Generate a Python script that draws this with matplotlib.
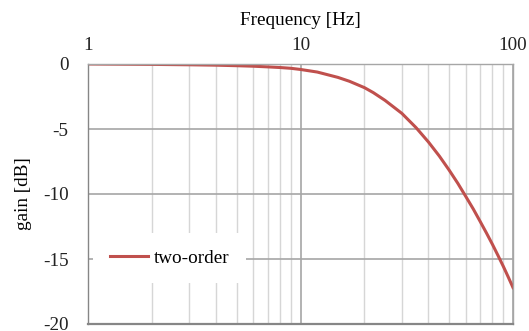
import matplotlib.pyplot as plt
from matplotlib.ticker import FixedLocator, NullFormatter

# values
freq = [1, 2, 3, 4, 5, 6, 7, 8, 9, 10, 12, 15, 17, 20, 22, 25, 30, 35, 40, 45, 50,
        55, 60, 65, 70, 75, 80, 85, 90, 95, 100]
gain = [0.0, -0.03, -0.06, -0.09, -0.13, -0.17, -0.22, -0.27, -0.33, -0.42, -0.62,
        -1.03, -1.33, -1.82, -2.2, -2.8, -3.8, -4.9, -6.0, -7.08, -8.15, -9.18, -10.2,
        -11.15, -12.1, -13.0, -13.87, -14.73, -15.56, -16.39, -17.2]
series_name = 'two-order'
xticks = [1, 10, 100]
yticks = [0, -5, -10, -15, -20]

plt.rcParams['font.family'] = ['Liberation Serif', 'DejaVu Serif']
plt.rcParams['font.size'] = 13.8

fig = plt.figure(figsize=(5.29, 3.31), dpi=100)
ax = fig.add_axes([88 / 529, 1 - 324 / 331, (513 - 88) / 529, (324 - 64) / 331])

ax.set_xscale('log')
ax.set_xlim(1, 100)
ax.set_ylim(-20, 0)

ax.xaxis.set_major_locator(FixedLocator(xticks))
ax.xaxis.set_minor_locator(FixedLocator([m * d for d in (1, 10) for m in range(2, 10)]))
ax.xaxis.set_minor_formatter(NullFormatter())
ax.set_xticklabels([str(t) for t in xticks])
ax.set_yticks(yticks)
ax.set_yticklabels([str(t) for t in yticks])

ax.xaxis.tick_top()
ax.xaxis.set_label_position('top')
ax.tick_params(axis='both', which='both', length=0, colors='#222222')
ax.tick_params(axis='x', pad=7)
ax.tick_params(axis='y', pad=14)

ax.grid(True, which='major', axis='x', color='#a6a6a6', lw=1.2)
ax.grid(True, which='minor', axis='x', color='#d6d6d6', lw=1.0)
ax.grid(True, which='major', axis='y', color='#a6a6a6', lw=1.2)
ax.set_axisbelow(True)

for s in ax.spines.values():
    s.set_color('#a6a6a6')
    s.set_linewidth(1.0)
ax.spines['left'].set_color('#868686')
ax.spines['bottom'].set_color('#868686')
ax.spines['bottom'].set_linewidth(1.6)

ax.plot(freq, gain, color='#c0504d', lw=2.2, label=series_name)

ax.set_xlabel('Frequency [Hz]', labelpad=9)
ax.set_ylabel('gain [dB]', labelpad=8)

leg = ax.legend(loc='center', bbox_to_anchor=(0.192, 0.254), frameon=True,
                fancybox=False, edgecolor='none', facecolor='white', framealpha=1,
                handlelength=2.0, handletextpad=0.3, borderpad=0.85)

fig.savefig('out.png', dpi=100)
